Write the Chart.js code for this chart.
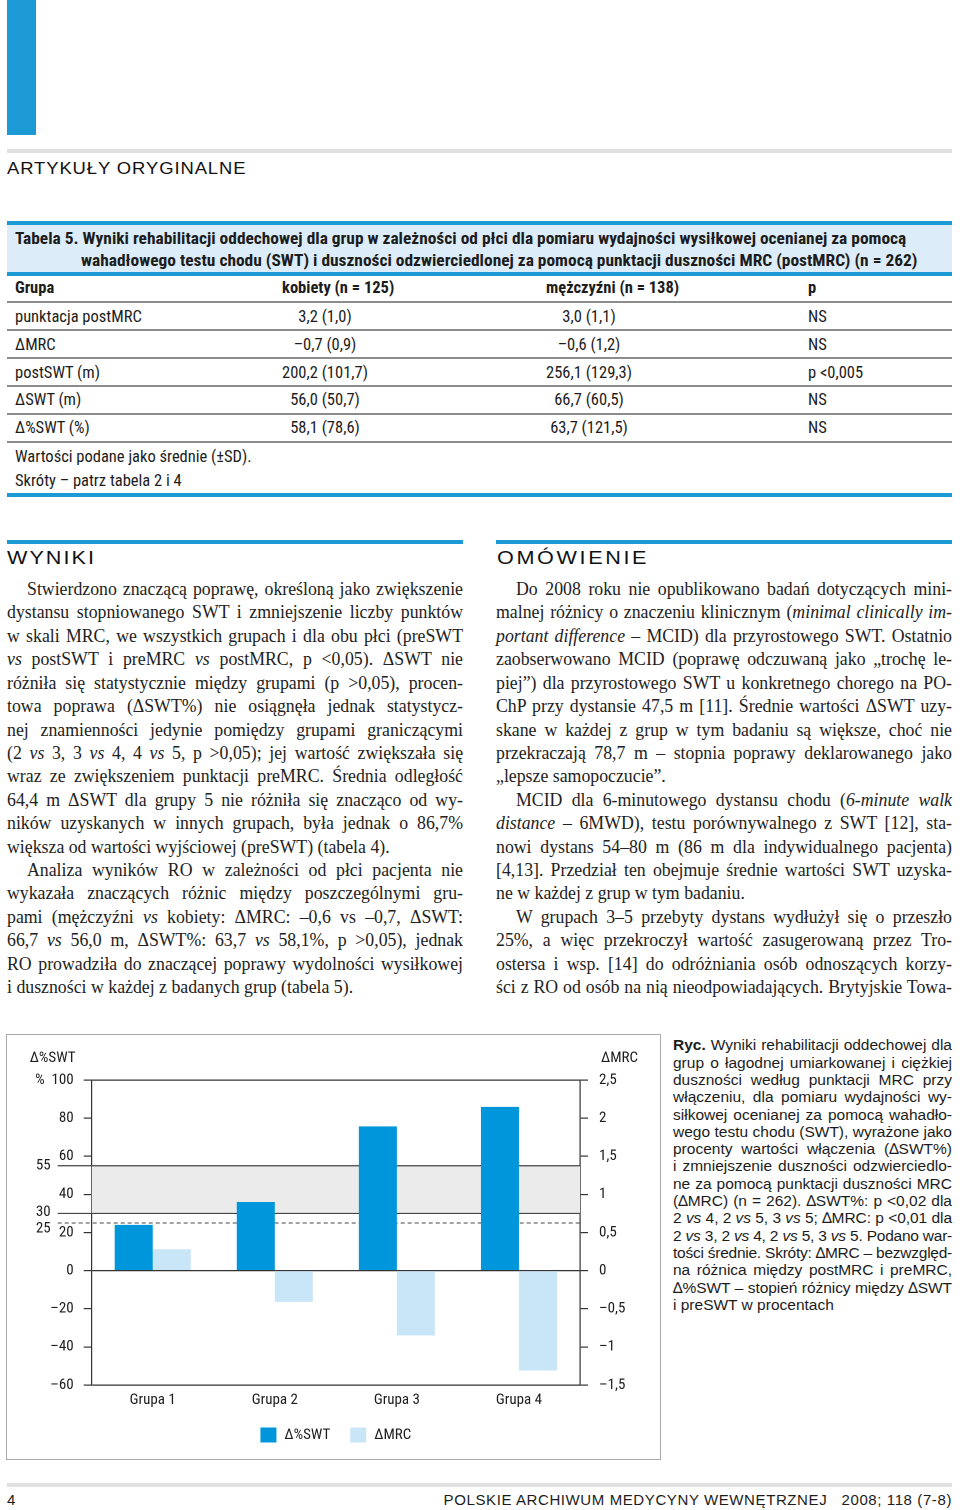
<!DOCTYPE html>
<html><head><meta charset="utf-8">
<script src="https://cdn.jsdelivr.net/npm/chart.js@4"></script>
<style>
body{margin:0;width:960px;height:1510px;position:relative;background:#fff;color:#1c1c1c;overflow:hidden}
.a{position:absolute}
.n{font-family:'Roboto Condensed','Liberation Sans Narrow',sans-serif;font-size:16.5px;white-space:nowrap;line-height:20px;height:20px}
.tc{font-size:17.4px}
.b{font-weight:bold}
.wide{font-family:'Liberation Sans',Arial,sans-serif;transform-origin:left center;white-space:nowrap;color:#111}
.blue{background:#1b9ad6}
.gray{background:#8c8c8c}
.col{font-family:'Liberation Serif','DejaVu Serif',serif;font-size:17.8px;color:#222}
.ln{height:23.43px;line-height:23.43px;text-align:justify;text-align-last:justify;overflow:visible}
.last{text-align-last:left}
.ind{text-indent:20px}
.cap{font-family:'Liberation Sans',Arial,sans-serif;font-size:15.5px;color:#1c1c1c}
.cl{height:17.3px;line-height:17.3px;text-align:justify;text-align-last:justify}
</style></head>
<body>
<div class="a blue" style="left:7px;top:0;width:29px;height:135px"></div>
<div class="a" style="left:7px;top:149px;width:945px;height:4px;background:#e0e0e0"></div>
<div class="a wide" style="left:7px;top:158px;font-size:16px;line-height:22px;letter-spacing:0.8px;transform:scaleX(1.15)">ARTYKUŁY ORYGINALNE</div>

<!-- Table -->
<div class="a blue" style="left:7px;top:221px;width:945px;height:4px"></div>
<div class="a" style="left:7px;top:225px;width:945px;height:47px;background:#dcedf9"></div>
<div class="a blue" style="left:7px;top:272px;width:945px;height:4px"></div>
<div class="a n b tc" style="left:15px;top:228px">Tabela 5. Wyniki rehabilitacji oddechowej dla grup w zależności od płci dla pomiaru wydajności wysiłkowej ocenianej za pomocą</div>
<div class="a n b tc" style="left:81px;top:250px">wahadłowego testu chodu (SWT) i duszności odzwierciedlonej za pomocą punktacji duszności MRC (postMRC) (n = 262)</div>

<div class="a n b" style="left:15px;top:278px">Grupa</div>
<div class="a n b" style="left:282px;top:278px">kobiety (n = 125)</div>
<div class="a n b" style="left:546px;top:278px">mężczyźni (n = 138)</div>
<div class="a n b" style="left:808px;top:278px">p</div>

<div class="a gray" style="left:7px;top:301px;width:945px;height:1.5px"></div>
<div class="a gray" style="left:7px;top:329px;width:945px;height:1.5px"></div>
<div class="a gray" style="left:7px;top:357px;width:945px;height:1.5px"></div>
<div class="a gray" style="left:7px;top:385px;width:945px;height:1.5px"></div>
<div class="a gray" style="left:7px;top:413px;width:945px;height:1.5px"></div>
<div class="a gray" style="left:7px;top:441px;width:945px;height:1.5px"></div>

<div class="a n" style="left:15px;top:307px">punktacja postMRC</div>
<div class="a n" style="left:225px;top:307px;width:200px;text-align:center">3,2 (1,0)</div>
<div class="a n" style="left:489px;top:307px;width:200px;text-align:center">3,0 (1,1)</div>
<div class="a n" style="left:808px;top:307px">NS</div>

<div class="a n" style="left:15px;top:335px">∆MRC</div>
<div class="a n" style="left:225px;top:335px;width:200px;text-align:center">–0,7 (0,9)</div>
<div class="a n" style="left:489px;top:335px;width:200px;text-align:center">–0,6 (1,2)</div>
<div class="a n" style="left:808px;top:335px">NS</div>

<div class="a n" style="left:15px;top:363px">postSWT (m)</div>
<div class="a n" style="left:225px;top:363px;width:200px;text-align:center">200,2 (101,7)</div>
<div class="a n" style="left:489px;top:363px;width:200px;text-align:center">256,1 (129,3)</div>
<div class="a n" style="left:808px;top:363px">p &lt;0,005</div>

<div class="a n" style="left:15px;top:390px">∆SWT (m)</div>
<div class="a n" style="left:225px;top:390px;width:200px;text-align:center">56,0 (50,7)</div>
<div class="a n" style="left:489px;top:390px;width:200px;text-align:center">66,7 (60,5)</div>
<div class="a n" style="left:808px;top:390px">NS</div>

<div class="a n" style="left:15px;top:418px">∆%SWT (%)</div>
<div class="a n" style="left:225px;top:418px;width:200px;text-align:center">58,1 (78,6)</div>
<div class="a n" style="left:489px;top:418px;width:200px;text-align:center">63,7 (121,5)</div>
<div class="a n" style="left:808px;top:418px">NS</div>

<div class="a n" style="left:15px;top:447px">Wartości podane jako średnie (±SD).</div>
<div class="a n" style="left:15px;top:471px">Skróty – patrz tabela 2 i 4</div>
<div class="a blue" style="left:7px;top:493px;width:945px;height:4px"></div>

<!-- WYNIKI -->
<div class="a blue" style="left:7px;top:540px;width:456px;height:4px"></div>
<div class="a wide" style="left:7px;top:546px;font-size:18px;line-height:24px;letter-spacing:1.7px;transform:scaleX(1.2)">WYNIKI</div>
<div class="a col" style="left:7px;top:578px;width:456px">
<div class="ln ind">Stwierdzono znaczącą poprawę, określoną jako zwiększenie</div>
<div class="ln">dystansu stopniowanego SWT i zmniejszenie liczby punktów</div>
<div class="ln">w skali MRC, we wszystkich grupach i dla obu płci (preSWT</div>
<div class="ln"><i>vs</i> postSWT i preMRC <i>vs</i> postMRC, p &lt;0,05). ΔSWT nie</div>
<div class="ln">różniła się statystycznie między grupami (p &gt;0,05), procen-</div>
<div class="ln">towa poprawa (ΔSWT%) nie osiągnęła jednak statystycz-</div>
<div class="ln">nej znamienności jedynie pomiędzy grupami graniczącymi</div>
<div class="ln">(2 <i>vs</i> 3, 3 <i>vs</i> 4, 4 <i>vs</i> 5, p &gt;0,05); jej wartość zwiększała się</div>
<div class="ln">wraz ze zwiększeniem punktacji preMRC. Średnia odległość</div>
<div class="ln">64,4 m ΔSWT dla grupy 5 nie różniła się znacząco od wy-</div>
<div class="ln">ników uzyskanych w innych grupach, była jednak o 86,7%</div>
<div class="ln last">większa od wartości wyjściowej (preSWT) (tabela 4).</div>
<div class="ln ind">Analiza wyników RO w zależności od płci pacjenta nie</div>
<div class="ln">wykazała znaczących różnic między poszczególnymi gru-</div>
<div class="ln">pami (mężczyźni <i>vs</i> kobiety: ΔMRC: –0,6 vs –0,7, ΔSWT:</div>
<div class="ln">66,7 <i>vs</i> 56,0 m, ΔSWT%: 63,7 <i>vs</i> 58,1%, p &gt;0,05), jednak</div>
<div class="ln">RO prowadziła do znaczącej poprawy wydolności wysiłkowej</div>
<div class="ln last">i duszności w każdej z badanych grup (tabela 5).</div>
</div>

<!-- OMÓWIENIE -->
<div class="a blue" style="left:496px;top:540px;width:456px;height:4px"></div>
<div class="a wide" style="left:497px;top:546px;font-size:18px;line-height:24px;letter-spacing:2.2px;transform:scaleX(1.2)">OMÓWIENIE</div>
<div class="a col" style="left:496px;top:578px;width:456px">
<div class="ln ind">Do 2008 roku nie opublikowano badań dotyczących mini-</div>
<div class="ln">malnej różnicy o znaczeniu klinicznym (<i>minimal clinically im-</i></div>
<div class="ln"><i>portant difference</i> – MCID) dla przyrostowego SWT. Ostatnio</div>
<div class="ln">zaobserwowano MCID (poprawę odczuwaną jako „trochę le-</div>
<div class="ln">piej”) dla przyrostowego SWT u konkretnego chorego na PO-</div>
<div class="ln">ChP przy dystansie 47,5 m [11]. Średnie wartości ΔSWT uzy-</div>
<div class="ln">skane w każdej z grup w tym badaniu są większe, choć nie</div>
<div class="ln">przekraczają 78,7 m – stopnia poprawy deklarowanego jako</div>
<div class="ln last">„lepsze samopoczucie”.</div>
<div class="ln ind">MCID dla 6-minutowego dystansu chodu (<i>6-minute walk</i></div>
<div class="ln"><i>distance</i> – 6MWD), testu porównywalnego z SWT [12], sta-</div>
<div class="ln">nowi dystans 54–80 m (86 m dla indywidualnego pacjenta)</div>
<div class="ln">[4,13]. Przedział ten obejmuje średnie wartości SWT uzyska-</div>
<div class="ln last">ne w każdej z grup w tym badaniu.</div>
<div class="ln ind">W grupach 3–5 przebyty dystans wydłużył się o przeszło</div>
<div class="ln">25%, a więc przekroczył wartość zasugerowaną przez Tro-</div>
<div class="ln">ostersa i wsp. [14] do odróżniania osób odnoszących korzy-</div>
<div class="ln">ści z RO od osób na nią nieodpowiadających. Brytyjskie Towa-</div>
</div>

<!-- Figure -->
<div class="a" style="left:6px;top:1034px;width:655px;height:426px;border:1.5px solid #a9a9a9;box-sizing:border-box"></div>
<canvas id="c" class="a" style="left:0;top:1030px" width="670" height="440"></canvas>

<div class="a cap" style="left:673px;top:1036.4px;width:279px">
<div class="cl"><b>Ryc.</b> Wyniki rehabilitacji oddechowej dla</div>
<div class="cl">grup o łagodnej umiarkowanej i ciężkiej</div>
<div class="cl">duszności według punktacji MRC przy</div>
<div class="cl">włączeniu, dla pomiaru wydajności wy-</div>
<div class="cl">siłkowej ocenianej za pomocą wahadło-</div>
<div class="cl">wego testu chodu (SWT), wyrażone jako</div>
<div class="cl">procenty wartości włączenia (∆SWT%)</div>
<div class="cl">i zmniejszenie duszności odzwierciedlo-</div>
<div class="cl">ne za pomocą punktacji duszności MRC</div>
<div class="cl">(∆MRC) (n = 262). ∆SWT%: p &lt;0,02 dla</div>
<div class="cl">2 <i>vs</i> 4, 2 <i>vs</i> 5, 3 <i>vs</i> 5; ∆MRC: p &lt;0,01 dla</div>
<div class="cl">2 <i>vs</i> 3, 2 <i>vs</i> 4, 2 <i>vs</i> 5, 3 <i>vs</i> 5. Podano war-</div>
<div class="cl">tości średnie. Skróty: ∆MRC – bezwzględ-</div>
<div class="cl">na różnica między postMRC i preMRC,</div>
<div class="cl">∆%SWT – stopień różnicy między ∆SWT</div>
<div class="cl" style="text-align-last:left">i preSWT w procentach</div>
</div>

<!-- Footer -->
<div class="a" style="left:7px;top:1483px;width:945px;height:4px;background:#e0e0e0"></div>
<div class="a" style="left:7px;top:1491px;font-family:'Liberation Sans',Arial,sans-serif;font-size:15px;line-height:18px">4</div>
<div class="a" style="right:8px;top:1491px;font-family:'Liberation Sans',Arial,sans-serif;font-size:15px;letter-spacing:0.6px;line-height:18px;white-space:nowrap">POLSKIE ARCHIWUM MEDYCYNY WEWNĘTRZNEJ&nbsp;&nbsp; 2008; 118 (7-8)</div>

<script>
// keep every justified text line on a single line
document.querySelectorAll('.ln, .cl').forEach(el => {
  const lh = parseFloat(getComputedStyle(el).lineHeight);
  let ls = 0;
  while (el.scrollHeight > lh * 1.5 && ls > -1.5) { ls -= 0.05; el.style.letterSpacing = ls + 'px'; }
});

// ---- data ----
const categories = ['Grupa 1', 'Grupa 2', 'Grupa 3', 'Grupa 4'];
const seriesLabels = ['∆%SWT', '∆MRC'];
const swtPctValues = [24, 36, 75.7, 85.9];
const mrcDeltaValues = [0.28, -0.41, -0.85, -1.31];
const leftAxisRange = [-60, 100];
const leftAxisStep = 20;
const rightAxisRange = [-1.5, 2.5];
const rightAxisStep = 0.5;
const bandLimits = [30, 55];
const dashedLimit = 25;
const axisTitles = ['∆%SWT', '∆MRC'];

const FONT = "'Roboto Condensed','Liberation Sans Narrow',sans-serif";
const FS = 15;
const TXT = '#1e1e1e';
const LINE = '#333';
const fmt = v => {
  const s = String(Math.abs(Math.round(v * 100) / 100)).replace('.', ',');
  return (v < 0 ? '–' : '') + s;
};

const refPlugin = {
  id: 'refs',
  beforeDatasetsDraw(chart) {
    const { ctx, chartArea: a, scales: { y } } = chart;
    const yHi = y.getPixelForValue(bandLimits[1]);
    const yLo = y.getPixelForValue(bandLimits[0]);
    const yD = y.getPixelForValue(dashedLimit);
    const xl = a.left - 34;
    ctx.save();
    ctx.fillStyle = '#ebebeb';
    ctx.fillRect(a.left, yHi, a.right - a.left, yLo - yHi);
    ctx.strokeStyle = '#444';
    ctx.lineWidth = 1.2;
    [yHi, yLo].forEach(p => { ctx.beginPath(); ctx.moveTo(xl, p); ctx.lineTo(a.right, p); ctx.stroke(); });
    ctx.setLineDash([4, 3]);
    ctx.lineWidth = 1;
    ctx.beginPath(); ctx.moveTo(xl, yD); ctx.lineTo(a.right, yD); ctx.stroke();
    ctx.setLineDash([]);
    ctx.fillStyle = TXT;
    ctx.font = FS + 'px ' + FONT;
    ctx.textAlign = 'right';
    ctx.textBaseline = 'middle';
    ctx.fillText(String(bandLimits[1]), xl - 7, yHi);
    ctx.fillText(String(bandLimits[0]), xl - 7, yLo - 1);
    ctx.fillText(String(dashedLimit), xl - 7, yD + 6);
    ctx.restore();
  },
  afterDraw(chart) {
    const { ctx, chartArea: a } = chart;
    ctx.save();
    ctx.fillStyle = TXT;
    ctx.font = FS + 'px ' + FONT;
    ctx.textBaseline = 'middle';
    ctx.textAlign = 'left';
    ctx.fillText(axisTitles[0], a.left - 62, a.top - 22);
    ctx.fillText(axisTitles[1], a.right + 21, a.top - 22);
    // legend
    const items = chart.data.datasets.map(d => ({ label: d.label, color: d.backgroundColor, w: ctx.measureText(d.label).width }));
    const box = 16, gap = 8, spacing = 20;
    let total = 0;
    items.forEach((it, i) => { total += box + gap + it.w + (i ? spacing : 0); });
    let x = (a.left + a.right) / 2 - total / 2;
    const ly = a.bottom + 50;
    items.forEach(it => {
      ctx.fillStyle = it.color;
      ctx.fillRect(x, ly - 7.5, box, 15);
      ctx.fillStyle = TXT;
      ctx.fillText(it.label, x + box + gap, ly);
      x += box + gap + it.w + spacing;
    });
    ctx.restore();
  }
};

Chart.defaults.font.family = FONT;
Chart.defaults.font.size = FS;
Chart.defaults.color = TXT;

new Chart(document.getElementById('c'), {
  type: 'bar',
  data: {
    labels: categories,
    datasets: [
      { label: seriesLabels[0], data: swtPctValues, yAxisID: 'y', backgroundColor: '#0096db', borderWidth: 0 },
      { label: seriesLabels[1], data: mrcDeltaValues, yAxisID: 'y1', backgroundColor: '#c8e6f8', borderWidth: 0 }
    ]
  },
  options: {
    responsive: false,
    animation: false,
    devicePixelRatio: 2,
    layout: { padding: { left: 0, right: 0, top: 50, bottom: 45 } },
    plugins: { legend: { display: false }, tooltip: { enabled: false } },
    datasets: { bar: { categoryPercentage: 0.623, barPercentage: 1 } },
    scales: {
      x: {
        grid: { display: false, drawTicks: false },
        border: { display: false },
        ticks: { padding: 6, color: TXT },
        afterFit(s) { s.height = 40; }
      },
      y: {
        position: 'left',
        min: leftAxisRange[0], max: leftAxisRange[1],
        ticks: {
          stepSize: leftAxisStep, padding: 10, color: TXT,
          callback: v => (v === leftAxisRange[1] ? '%  ' : '') + fmt(v)
        },
        grid: {
          color: c => (c.tick && [leftAxisRange[1], 0, leftAxisRange[0]].includes(c.tick.value)) ? LINE : 'rgba(0,0,0,0)',
          tickColor: LINE, tickLength: 8, lineWidth: 1.2, tickWidth: 1.2
        },
        border: { color: LINE, width: 1.2 },
        afterFit(s) { s.width = 91.7; }
      },
      y1: {
        position: 'right',
        min: rightAxisRange[0], max: rightAxisRange[1],
        ticks: { stepSize: rightAxisStep, padding: 11, color: TXT, callback: v => fmt(v) },
        grid: { drawOnChartArea: false, tickLength: 8, color: LINE, lineWidth: 1.2 },
        border: { color: LINE, width: 1.2 },
        afterFit(s) { s.width = 90; }
      }
    }
  },
  plugins: [refPlugin]
});
</script>
</body></html>
